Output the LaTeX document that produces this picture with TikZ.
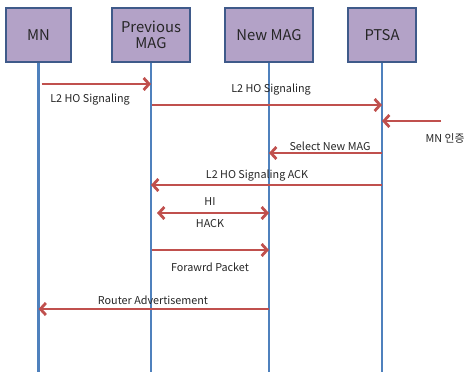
\documentclass[tikz,border=0pt]{standalone}
\usepackage{fontspec}
\setmainfont{Noto Sans CJK KR}
\usetikzlibrary{arrows.meta}
\definecolor{boxfill}{HTML}{B3A2C7}
\definecolor{boxline}{HTML}{3F5A8A}
\definecolor{lifeblue}{HTML}{4F81BD}
\definecolor{msgred}{HTML}{C0504D}
\tikzstyle{entity} = [rectangle, draw=boxline, line width=1.5pt, fill=boxfill,
    minimum height=54pt, align=center, inner sep=0pt,
    font=\fontsize{14.8}{16.5}\selectfont, text=black!85]
\tikzstyle{life} = [draw=lifeblue, line width=2.2pt]
\tikzstyle{msg} = [draw=msgred, line width=2.8pt, -{Straight Barb[length=5.5pt,width=12pt]}]
\tikzstyle{lbl} = [font=\fontsize{10.8}{11}\selectfont, text=black!85, inner sep=1pt]

\begin{document}
\begin{tikzpicture}[x=1pt, y=-1pt]
		\useasboundingbox (0,0) rectangle (469,372);
		% lifelines first, boxes on top
		\coordinate (mnend) at (38.5,372);
		\coordinate (prevend) at (151,372);
		\coordinate (newend) at (269,372);
		\coordinate (ptsaend) at (382,372);
		\path [life] (38.5,35) -- (mnend);
		\path [life] (151,35) -- (prevend);
		\path [life] (269,35) -- (newend);
		\path [life] (382,35) -- (ptsaend);
		
		\node [entity, minimum width=65pt] (mn) at (38.5,35) {MN};
		\node [entity, minimum width=78pt] (prev) at (151,35) {Previous\\MAG};
		\node [entity, minimum width=88pt] (new) at (269,35) {New MAG};
		\node [entity, minimum width=68pt] (ptsa) at (382,35) {PTSA};
		
		% messages
		\path [msg] ([xshift=3pt]mn.center |- 0,84) -- (prev.center |- 0,84);
		\node [lbl] (l1) at (90,100) {L2 HO Signaling};
		\path [msg] ([xshift=1pt]prev.center |- 0,105) -- (ptsa.center |- 0,105);
		\node [lbl] (l2) at (271,90) {L2 HO Signaling};
		\coordinate (auth) at (441,121);
		\path [msg] (auth) -- (ptsa.center |- 0,121);
		\node [lbl] (l3) at (445,138) {MN 인증};
		\path [msg] (ptsa.center |- 0,153) -- (new.center |- 0,153);
		\node [lbl] (l4) at (330,146) {Select New MAG};
		\path [msg] (ptsa.center |- 0,185) -- (prev.center |- 0,185);
		\node [lbl] (l5) at (257,176) {L2 HO Signaling ACK};
		\path [msg, {Straight Barb[length=5.5pt,width=12pt]}-{Straight Barb[length=5.5pt,width=12pt]}]
			([xshift=6pt]prev.center |- 0,213) -- (new.center |- 0,213);
		\node [lbl] (l6) at (210,202) {HI};
		\node [lbl] (l7) at (210,224) {HACK};
		\path [msg] ([xshift=1pt]prev.center |- 0,250) -- (new.center |- 0,250);
		\node [lbl] (l8) at (210,267) {Forawrd Packet};
		\path [msg] (new.center |- 0,309) -- (mn.center |- 0,309);
		\node [lbl] (l9) at (153,300) {Router Advertisement};
	\end{tikzpicture}
\end{document}
